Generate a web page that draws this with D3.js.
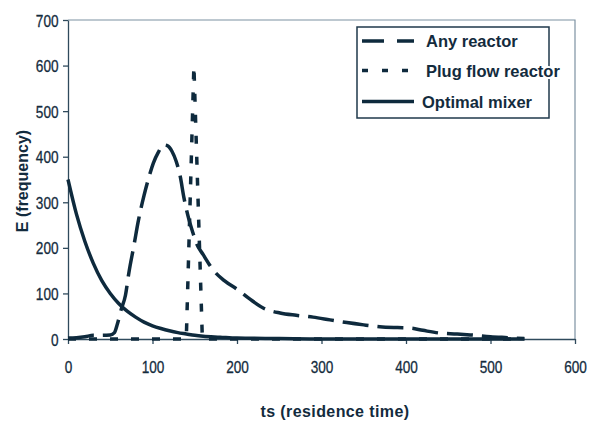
<!DOCTYPE html>
<html>
<head>
<meta charset="utf-8">
<script src="https://cdn.jsdelivr.net/npm/d3@7"></script>
<style>
  body { margin: 0; background: #fff; }
  svg { display: block; font-family: "Liberation Sans", Arial, sans-serif; }
</style>
</head>
<body>
<div id="chart"></div>
<script>
// data
var mixerT = [0, 10, 20, 30, 40, 50, 60, 70, 80, 90, 100, 110, 120, 130, 140, 150, 160, 180, 200, 250, 300, 400, 540];
var mixerE = [350, 274, 214, 166, 128, 100, 78, 61, 48, 37, 29, 23, 18, 14, 11, 8, 6, 4, 2, 1, 0, 0, 0];

var anyT = [0, 10, 20, 30, 40, 50, 55, 58, 63, 68, 72, 78, 83, 90, 95, 101, 107, 113, 118, 123, 128, 133, 137, 142, 148, 152, 160, 172, 185, 201, 215, 231, 251, 270, 290, 310, 330, 350, 369, 390, 405, 420, 440, 460, 476, 500, 520, 540];
var anyE = [2, 3, 5, 8, 8, 9, 14, 30, 65, 96, 145, 205, 257, 315, 350, 386, 410, 426, 424, 412, 390, 355, 312, 270, 232, 210, 185, 151, 128, 108, 88, 68, 57, 52, 48, 42, 36, 31, 27, 25, 24, 19, 13, 11, 9, 5, 3, 1];

var plugT = [0, 140, 149, 159, 540];
var plugE = [0, 0, 600, 0, 0];

var xTicks = [0, 100, 200, 300, 400, 500, 600];
var yTicks = [0, 100, 200, 300, 400, 500, 600, 700];

var seriesNames = ["Any reactor", "Plug flow reactor", "Optimal mixer"];

const W = 596, H = 421;
const ink = "#0e2a3d",
      axisCol = "#2f4a5c",
      textCol = "#132b3d";

var margin = {left: 68, right: 21, top: 20, bottom: 82};

var svg = d3.select("#chart").append("svg")
    .attr("width", W)
    .attr("height", H);

var x = d3.scaleLinear().domain([0, 600]).range([margin.left, W - margin.right]);
var y = d3.scaleLinear().domain([0, 700]).range([H - margin.bottom, margin.top]);

// plot frame (top and right)
svg.append("path")
    .attr("d", "M" + x(0) + "," + y(700) + "H" + x(600) + "V" + y(0))
    .attr("fill", "none")
    .attr("stroke", "#7d92a2")
    .attr("stroke-width", 1.2);

// axes
var xAxis = svg.append("g")
    .attr("transform", "translate(0," + y(0) + ")")
    .call(d3.axisBottom(x).tickValues(xTicks).tickSize(5).tickSizeOuter(0));

var yAxis = svg.append("g")
    .attr("transform", "translate(" + x(0) + ",0)")
    .call(d3.axisLeft(y).tickValues(yTicks).tickSize(5).tickSizeOuter(0));

[xAxis, yAxis].forEach(function(a) {
    a.selectAll("path, line").attr("stroke", axisCol).attr("stroke-width", 1.3);
    a.selectAll("text")
        .attr("fill", textCol)
        .attr("stroke", textCol)
        .attr("stroke-width", 0.3)
        .style("font-size", "17px")
        .style("font-family", "'Liberation Sans', Arial, sans-serif")
        .attr("transform", "scale(0.8,1)");
});
xAxis.selectAll("text").attr("y", 34).attr("dy", 0);
yAxis.selectAll("text").attr("x", -9.5 / 0.8).attr("dy", "0.36em");

// series
function pts(t, e) {
    return t.map(function(d, i) { return [d, e[i]]; });
}

var smooth = d3.line()
    .x(function(d) { return x(d[0]); })
    .y(function(d) { return y(d[1]); })
    .curve(d3.curveMonotoneX);

var straight = d3.line()
    .x(function(d) { return x(d[0]); })
    .y(function(d) { return y(d[1]); });

svg.append("path")
    .attr("d", straight(pts(plugT, plugE)))
    .attr("fill", "none")
    .attr("stroke", ink)
    .attr("stroke-width", 3.5)
    .attr("stroke-dasharray", "8,13");

svg.append("path")
    .attr("d", smooth(pts(anyT, anyE)))
    .attr("fill", "none")
    .attr("stroke", ink)
    .attr("stroke-width", 3.5)
    .attr("stroke-dasharray", "26,9");

svg.append("path")
    .attr("d", smooth(pts(mixerT, mixerE)))
    .attr("fill", "none")
    .attr("stroke", ink)
    .attr("stroke-width", 3.5);

// axis titles
svg.append("text")
    .attr("transform", "translate(28," + 181 + ") rotate(-90)")
    .attr("text-anchor", "middle")
    .attr("fill", textCol)
    .style("font-size", "16px")
    .style("font-weight", "bold")
    .text("E (frequency)");

svg.append("text")
    .attr("x", 335)
    .attr("y", 417)
    .attr("text-anchor", "middle")
    .attr("fill", textCol)
    .style("font-size", "16px")
    .style("font-weight", "bold")
    .style("letter-spacing", "0.4px")
    .text("ts (residence time)");

// legend
var legend = svg.append("g");
legend.append("rect")
    .attr("x", 357).attr("y", 27)
    .attr("width", 192).attr("height", 91)
    .attr("fill", "#fff")
    .attr("stroke", "#1f394b")
    .attr("stroke-width", 1.5);

var dashes = ["22,13", "6,14", null];
var rowY = [41, 70.5, 101.5];

seriesNames.forEach(function(name, i) {
    legend.append("line")
        .attr("x1", 362).attr("x2", 414)
        .attr("y1", rowY[i]).attr("y2", rowY[i])
        .attr("stroke", ink)
        .attr("stroke-width", 3.5)
        .attr("stroke-dasharray", dashes[i]);
    legend.append("text")
        .attr("x", i === 2 ? 422 : 426)
        .attr("y", rowY[i] + 6)
        .attr("fill", textCol)
        .attr("stroke", "#fff")
        .attr("stroke-width", 4)
        .attr("paint-order", "stroke")
        .style("font-size", "16.5px")
        .style("font-weight", "bold")
        .text(name);
});
</script>
</body>
</html>
